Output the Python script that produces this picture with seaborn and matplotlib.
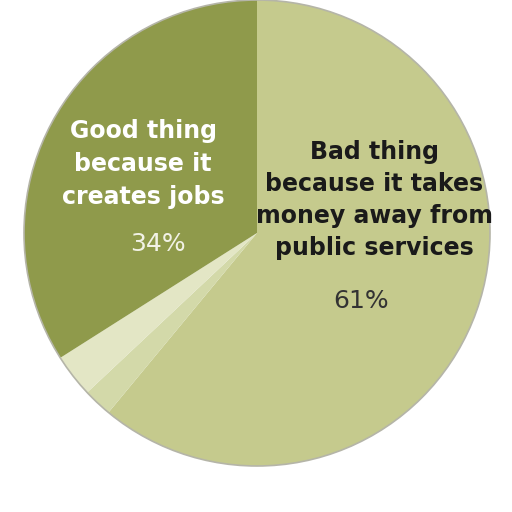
import matplotlib
matplotlib.use("Agg")
import matplotlib.pyplot as plt
from matplotlib.patches import Circle
import seaborn as sns

# slices in clockwise order from 12 o'clock
slice_names = ["Bad thing", "Other", "Don't know", "Good thing"]
slice_values = [61, 2, 3, 34]
slice_colors = ["#c5ca8d", "#d3d9a9", "#e3e6c5", "#8f9a4b"]

good_label = "Good thing\nbecause it\ncreates jobs"
good_pct = "34%"
bad_label = "Bad thing\nbecause it takes\nmoney away from\npublic services"
bad_pct = "61%"

sns.set_theme(style="white")
plt.rcParams['font.family'] = ['Liberation Sans Narrow', 'DejaVu Sans']

fig = plt.figure(figsize=(5.12, 5.12), dpi=100)
ax = fig.add_axes([0, 0, 1, 1])

ax.pie(slice_values, colors=slice_colors, startangle=90, counterclock=False,
       radius=1, wedgeprops={'linewidth': 0})
ax.add_patch(Circle((0, 0), 1.0, fill=False, edgecolor='#b5b5a8', lw=1.2))

# pixel-based limits: center at (257, 233), radius 233 px
ax.set_xlim(-257 / 233, (512 - 257) / 233)
ax.set_ylim(-(512 - 233) / 233, 233 / 233)
ax.set_aspect('auto')
ax.axis('off')

def px(x, y):
    return (x - 257) / 233, (233 - y) / 233

ax.text(*px(143, 164), good_label, ha='center', va='center', fontsize=17,
        fontweight='bold', color='white', linespacing=1.45)
ax.text(*px(158, 244), good_pct, ha='center', va='center', fontsize=18,
        color='#f2f2e6')
ax.text(*px(374, 200), bad_label, ha='center', va='center', fontsize=17,
        fontweight='bold', color='#1a1a1a', linespacing=1.42)
ax.text(*px(361, 301), bad_pct, ha='center', va='center', fontsize=18,
        color='#333333')

fig.savefig('out.png', dpi=100)
